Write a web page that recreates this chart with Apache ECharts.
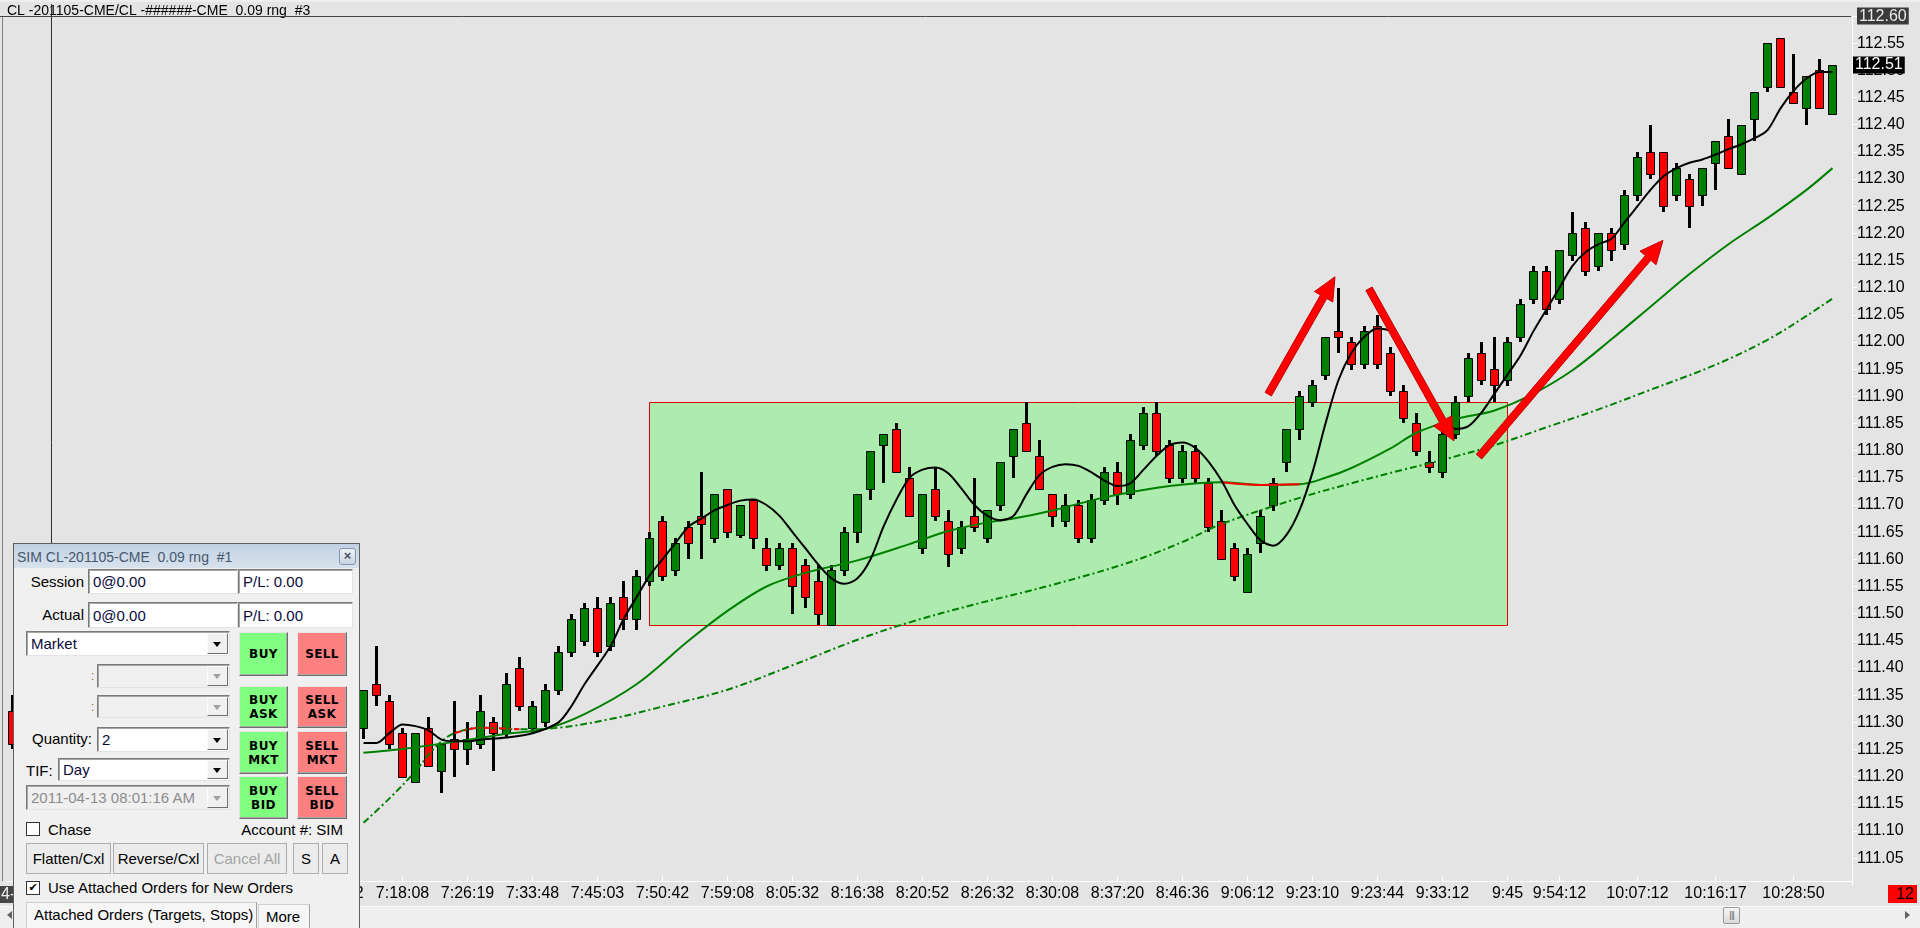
<!DOCTYPE html>
<html><head><meta charset="utf-8">
<script src="https://cdn.jsdelivr.net/npm/echarts@6/dist/echarts.min.js"></script>
<style>
html,body{margin:0;padding:0;width:1920px;height:928px;overflow:hidden;background:#e4e4e4;font-family:'Liberation Sans',Arial,sans-serif;}
#chart{position:absolute;left:0;top:0;width:1920px;height:928px;}
#sb{position:absolute;left:0;top:906px;width:1920px;height:22px;background:#efefef;border-top:1px solid #fbfbfb;box-sizing:border-box;}
#thumb{position:absolute;left:1723px;top:907px;width:17px;height:17px;box-sizing:border-box;border:1px solid #979797;border-radius:2px;background:linear-gradient(#f6f6f6,#dadada);font-size:8px;line-height:15px;text-align:center;color:#555;font-family:'DejaVu Sans';letter-spacing:-1px;}
.sa{position:absolute;width:0;height:0;border-top:4px solid transparent;border-bottom:4px solid transparent;}
#panel{position:absolute;left:13px;top:543px;width:347px;height:400px;box-sizing:border-box;border:1px solid #5f5f5f;background:#f0f0f0;overflow:hidden;font-size:15px;color:#000;}
#panel div{position:absolute;box-sizing:border-box;}
#panel .ttl{left:0;top:0;width:345px;height:24px;background:linear-gradient(#c2d1e2,#d8e2ed);color:#46586e;font-size:14px;line-height:26px;padding-left:3px;white-space:pre;}
#panel .cls{left:325px;top:4px;width:17px;height:17px;border:1px solid #8595ab;border-radius:3px;background:linear-gradient(#eef2f7,#c9d4e1);font-size:13px;line-height:14px;text-align:center;color:#4a5568;font-weight:bold;}
#panel .lbl{height:20px;line-height:20px;white-space:nowrap;}
#panel .inp,#panel .dd{background:#fff;border:1px solid;border-color:#7a7a7a #e3e3e3 #e3e3e3 #7a7a7a;box-shadow:inset 1px 1px 0 #a6a6a6;padding-left:4px;color:#0a0a3c;display:flex;align-items:center;white-space:nowrap;}
#panel .dd.dis{background:#f0f0f0;color:#8c8c8c;}
#panel .arr{right:1px;top:1px;bottom:1px;width:21px;background:#f0f0f0;border:1px solid;border-color:#fafafa #6e6e6e #6e6e6e #fafafa;}
#panel .tri{left:5px;top:50%;margin-top:-2px;width:0;height:0;border-left:4.5px solid transparent;border-right:4.5px solid transparent;border-top:5px solid #000;}
#panel .dis .tri{border-top-color:#a0a0a0;}
#panel .btn{font-family:'DejaVu Sans',sans-serif;font-weight:bold;font-size:12px;line-height:14px;letter-spacing:0.4px;border:1px solid;border-color:#e6e6e6 #6e6e6e #6e6e6e #e6e6e6;box-shadow:inset -1px -1px 0 #a8a8a8;display:flex;flex-direction:column;justify-content:center;align-items:center;}
#panel .buy{background:#80ff80;}
#panel .sell{background:#ff8080;}
#panel .colon{width:6px;height:20px;line-height:20px;font-size:12px;color:#a0682a;}
#panel .chk{width:14px;height:14px;background:#fff;border:1px solid #333;font-size:11px;line-height:12px;text-align:center;font-family:'DejaVu Sans';}
#panel .gb{height:31px;background:#ececec;border:1px solid #adadad;text-align:center;line-height:29px;}
#panel .gb.dis{color:#a3a3a3;}
#panel .tab{border:1px solid;border-color:#d0d0d0 #a0a0a0 transparent #d0d0d0;background:#f6f6f6;padding-left:7px;line-height:24px;white-space:nowrap;}
</style>
</head><body>
<div id="chart"></div>
<div id="sb"></div>
<div class="sa" style="left:7px;top:911px;border-right:5px solid #606060;"></div>
<div class="sa" style="left:1905px;top:911px;border-left:5px solid #606060;"></div>
<div id="thumb">|||</div>
<div id="panel">
 <div class="ttl">SIM CL-201105-CME  0.09 rng  #1</div>
 <div class="cls">×</div>
 <div class="lbl" style="left:0;top:28px;width:70px;text-align:right">Session</div>
 <div class="inp" style="left:74px;top:25px;width:150px;height:25px">0@0.00</div>
 <div class="inp" style="left:224px;top:25px;width:115px;height:25px">P/L: 0.00</div>
 <div class="lbl" style="left:0;top:61px;width:70px;text-align:right">Actual</div>
 <div class="inp" style="left:74px;top:58px;width:150px;height:26px">0@0.00</div>
 <div class="inp" style="left:224px;top:58px;width:115px;height:26px">P/L: 0.00</div>
 <div class="dd" style="left:12px;top:87px;width:204px;height:25px">Market<div class="arr"><div class="tri"></div></div></div>
 <div class="btn buy" style="left:225px;top:88px;width:49px;height:44px"><span>BUY</span></div>
 <div class="btn sell" style="left:283px;top:88px;width:50px;height:44px"><span>SELL</span></div>
 <div class="colon" style="left:77px;top:122px">:</div>
 <div class="dd dis" style="left:83px;top:120px;width:133px;height:24px"><div class="arr"><div class="tri"></div></div></div>
 <div class="colon" style="left:77px;top:153px">:</div>
 <div class="dd dis" style="left:83px;top:151px;width:133px;height:23px"><div class="arr"><div class="tri"></div></div></div>
 <div class="btn buy" style="left:225px;top:142px;width:49px;height:42px"><span>BUY</span><span>ASK</span></div>
 <div class="btn sell" style="left:283px;top:142px;width:50px;height:42px"><span>SELL</span><span>ASK</span></div>
 <div class="lbl" style="left:0;top:185px;width:78px;text-align:right">Quantity:</div>
 <div class="dd" style="left:83px;top:183px;width:133px;height:25px">2<div class="arr"><div class="tri"></div></div></div>
 <div class="btn buy" style="left:225px;top:187px;width:49px;height:43px"><span>BUY</span><span>MKT</span></div>
 <div class="btn sell" style="left:283px;top:187px;width:50px;height:43px"><span>SELL</span><span>MKT</span></div>
 <div class="lbl" style="left:12px;top:217px">TIF:</div>
 <div class="dd" style="left:44px;top:214px;width:172px;height:23px">Day<div class="arr"><div class="tri"></div></div></div>
 <div class="dd dis" style="left:12px;top:241px;width:204px;height:25px">2011-04-13 08:01:16 AM<div class="arr"><div class="tri"></div></div></div>
 <div class="btn buy" style="left:225px;top:232px;width:49px;height:43px"><span>BUY</span><span>BID</span></div>
 <div class="btn sell" style="left:283px;top:232px;width:50px;height:43px"><span>SELL</span><span>BID</span></div>
 <div class="chk" style="left:12px;top:278px"></div>
 <div class="lbl" style="left:34px;top:276px">Chase</div>
 <div class="lbl" style="left:180px;top:276px;width:149px;text-align:right">Account #: SIM</div>
 <div class="gb" style="left:12px;top:299px;width:85px">Flatten/Cxl</div>
 <div class="gb" style="left:99px;top:299px;width:91px">Reverse/Cxl</div>
 <div class="gb dis" style="left:193px;top:299px;width:80px">Cancel All</div>
 <div class="gb" style="left:279px;top:299px;width:26px">S</div>
 <div class="gb" style="left:308px;top:299px;width:26px">A</div>
 <div class="chk" style="left:12px;top:337px">✔</div>
 <div class="lbl" style="left:34px;top:334px">Use Attached Orders for New Orders</div>
 <div class="tab" style="left:12px;top:358px;width:231px;height:40px">Attached Orders (Targets, Stops)</div>
 <div class="tab" style="left:244px;top:360px;width:52px;height:40px">More</div>
</div>
<script>
// ---------------- DATA ----------------
const barCount = 142; // 141 range bars + one empty slot on the right
// per-bar OHLC (null = bar hidden behind the order panel)
const opens = [111.32,null,null,null,null,null,null,null,null,null,null,null,null,null,null,null,null,null,null,null,null,null,null,null,null,null,null,
 111.29,111.37,111.34,111.28,111.19,111.29,111.21,111.27,111.25,111.26,111.30,111.28,111.40,111.29,111.30,111.36,111.43,111.45,111.51,111.44,111.53,111.49,111.56,111.67,
 111.58,111.66,111.68,111.64,111.73,111.645,111.71,111.62,111.59,111.62,111.59,111.56,111.48,111.58,111.65,111.73,111.81,111.84,111.75,111.62,
 111.73,111.67,111.62,111.68,111.64,111.70,111.79,111.85,111.79,111.72,111.67,111.70,111.64,111.71,111.76,111.72,111.81,111.87,111.81,111.75,
 111.80,111.74,111.67,111.62,111.54,111.63,111.70,111.78,111.84,111.89,111.94,112.02,112.00,111.96,112.03,111.98,111.91,111.85,111.78,111.76,
 111.83,111.90,111.98,111.95,111.93,112.01,112.08,112.13,112.08,112.16,112.21,112.14,112.20,112.18,112.27,112.35,112.35,112.27,112.30,112.27,
 112.33,112.38,112.31,112.41,112.47,112.56,112.46,112.43,112.50,112.42];
const closes = [111.26,null,null,null,null,null,null,null,null,null,null,null,null,null,null,null,null,null,null,null,null,null,null,null,null,null,null,
 111.36,111.35,111.26,111.20,111.28,111.22,111.26,111.25,111.27,111.32,111.28,111.37,111.33,111.33,111.36,111.43,111.49,111.51,111.43,111.52,111.49,111.57,111.64,111.57,
 111.63,111.63,111.665,111.72,111.65,111.70,111.64,111.59,111.62,111.55,111.53,111.50,111.58,111.65,111.72,111.80,111.83,111.76,111.68,111.72,
 111.68,111.61,111.66,111.66,111.69,111.78,111.84,111.80,111.73,111.68,111.70,111.64,111.71,111.76,111.72,111.82,111.87,111.80,111.75,111.80,
 111.75,111.66,111.60,111.57,111.61,111.68,111.74,111.84,111.90,111.92,112.01,112.01,111.96,112.02,111.96,111.91,111.86,111.80,111.77,111.83,
 111.89,111.97,111.93,111.92,112.00,112.07,112.13,112.06,112.17,112.20,112.13,112.20,112.17,112.27,112.34,112.31,112.25,112.32,112.25,112.32,
 112.37,112.32,112.40,112.46,112.55,112.47,112.44,112.49,112.43,112.51];
const lows = [111.25,null,null,null,null,null,null,null,null,null,null,null,null,null,null,null,null,null,null,null,null,null,null,null,null,null,null,
 111.27,111.33,111.25,111.20,111.19,111.22,111.17,111.20,111.22,111.25,111.21,111.27,111.32,111.28,111.29,111.35,111.42,111.44,111.42,111.43,111.47,111.47,111.55,111.56,
 111.57,111.60,111.60,111.63,111.64,111.64,111.62,111.58,111.58,111.50,111.51,111.48,111.48,111.57,111.63,111.71,111.74,111.76,111.68,111.61,
 111.67,111.585,111.61,111.65,111.63,111.69,111.75,111.80,111.73,111.66,111.66,111.63,111.63,111.70,111.70,111.71,111.80,111.79,111.74,111.74,
 111.74,111.65,111.60,111.56,111.54,111.61,111.69,111.76,111.82,111.88,111.93,111.98,111.95,111.95,111.95,111.90,111.85,111.79,111.76,111.75,
 111.82,111.89,111.92,111.89,111.92,112.00,112.07,112.05,112.07,112.15,112.12,112.13,112.15,112.17,112.26,112.30,112.24,112.26,112.21,112.25,
 112.28,112.32,112.31,112.37,112.46,112.47,112.44,112.40,112.43,112.42];
const highs = [111.35,null,null,null,null,null,null,null,null,null,null,null,null,null,null,null,null,null,null,null,null,null,null,null,null,null,null,
 111.36,111.44,111.35,111.29,111.28,111.31,111.26,111.34,111.30,111.35,111.31,111.39,111.42,111.34,111.37,111.44,111.50,111.52,111.53,111.53,111.56,111.58,111.65,111.68,
 111.64,111.67,111.76,111.72,111.73,111.70,111.71,111.64,111.63,111.63,111.60,111.59,111.59,111.66,111.72,111.80,111.83,111.85,111.77,111.72,
 111.77,111.69,111.67,111.75,111.69,111.78,111.84,111.89,111.82,111.72,111.72,111.71,111.72,111.77,111.78,111.83,111.88,111.89,111.82,111.81,
 111.81,111.75,111.69,111.63,111.62,111.69,111.75,111.84,111.91,111.93,112.01,112.10,112.01,112.03,112.05,111.99,111.92,111.87,111.80,111.84,
 111.90,111.98,112.00,112.01,112.01,112.08,112.14,112.14,112.17,112.24,112.22,112.20,112.21,112.28,112.35,112.40,112.35,112.33,112.31,112.32,
 112.37,112.41,112.40,112.46,112.55,112.56,112.53,112.49,112.52,112.51];

// moving averages: [bar, price]
const maFast = [[27,111.262],[28,111.262],[29,111.28],[30,111.296],[31,111.293],[32,111.285],[33,111.268],[34,111.265],[35,111.265],[36,111.268],[38,111.272],[40,111.28],[42,111.30],[43,111.33],[44,111.37],[46,111.44],[47,111.49],[48,111.53],[49,111.57],[50,111.60],[51,111.63],[52,111.66],[53,111.675],[54,111.69],[55,111.70],[56,111.708],[57,111.71],[58,111.70],[59,111.68],[60,111.65],[61,111.62],[62,111.59],[63,111.565],[64,111.555],[65,111.565],[66,111.60],[67,111.66],[68,111.71],[69,111.75],[70,111.765],[71,111.769],[72,111.758],[73,111.73],[74,111.70],[75,111.68],[76,111.672],[77,111.68],[78,111.72],[79,111.755],[80,111.77],[81,111.775],[82,111.772],[83,111.76],[84,111.745],[85,111.735],[86,111.74],[87,111.765],[88,111.79],[89,111.81],[90,111.815],[91,111.805],[92,111.78],[93,111.745],[94,111.70],[95,111.665],[96,111.635],[97,111.625],[98,111.645],[99,111.69],[100,111.76],[101,111.85],[102,111.93],[103,111.98],[104,112.01],[105,112.025],[106,112.02],[107,111.995],[108,111.95],[109,111.90],[110,111.86],[111,111.84],[112,111.845],[113,111.87],[114,111.905],[115,111.94],[116,111.975],[117,112.02],[118,112.06],[119,112.10],[120,112.14],[121,112.165],[122,112.18],[123,112.19],[124,112.22],[125,112.25],[126,112.28],[127,112.305],[128,112.32],[129,112.33],[130,112.336],[131,112.345],[132,112.355],[133,112.364],[134,112.375],[135,112.39],[136,112.43],[137,112.462],[138,112.485],[139,112.497],[140,112.497]];
const maMid = [[27,111.244],[30,111.251],[34,111.264],[38,111.279],[41,111.288],[44,111.315],[48,111.37],[52,111.45],[55,111.505],[58,111.55],[61,111.575],[65,111.598],[69,111.628],[72,111.652],[75,111.668],[77,111.675],[80,111.69],[84,111.714],[89,111.735],[93,111.742],[96,111.737],[99,111.738],[101,111.75],[103,111.768],[106,111.804],[108,111.833],[111,111.858],[114,111.874],[117,111.905],[120,111.948],[123,112.005],[126,112.065],[129,112.125],[132,112.18],[135,112.228],[138,112.28],[140,112.32]];
const maSlow = [[27,111.115],[29,111.16],[31,111.21],[32,111.24],[33,111.265],[34,111.28],[36,111.29],[39,111.287],[42,111.29],[46,111.306],[50,111.329],[55,111.36],[60,111.405],[65,111.452],[69,111.484],[74,111.517],[80,111.553],[86,111.595],[90,111.632],[93,111.665],[99,111.713],[103,111.74],[107,111.765],[110,111.783],[114,111.81],[118,111.843],[122,111.876],[126,111.912],[131,111.958],[135,112.004],[138,112.048],[140,112.08]];
const midFallingBars = [93, 99];   // span where the mid average is drawn red
const slowFallingBars = [34, 39];  // span where the slow average is drawn red

// consolidation box: [fromBar, toBar, low, high]
const rangeBox = [[49, 115, 111.48, 111.89]];
// annotation arrows: [tailBar, tailPrice, tipBar, tipPrice]
const arrows = [[96.6, 111.904, 101.73, 112.12], [104.35, 112.098, 110.88, 111.818], [112.81, 111.789, 126.96, 112.187]];

// time-axis tick labels
const tickBars = [25,30,35,40,45,50,55,60,65,70,75,80,85,90,95,100,105,110,115,119,125,131,137];
const tickLabels = ['7:11:02','7:18:08','7:26:19','7:33:48','7:45:03','7:50:42','7:59:08','8:05:32','8:16:38','8:20:52','8:26:32','8:30:08','8:37:20','8:46:36','9:06:12','9:23:10','9:23:44','9:33:12','9:45','9:54:12','10:07:12','10:16:17','10:28:50'];
const priceMin = 111.00, priceMax = 112.60, priceStep = 0.05;
const titleText = 'CL -201105-CME/CL -######-CME  0.09 rng  #3';
const barTimer = '12';

// ---------------- BUILD ----------------
const FONT = "'Liberation Sans', Arial, sans-serif";
const categories = [];
for (let i = 0; i < barCount; i++) {
  const k = tickBars.indexOf(i);
  categories.push(k >= 0 ? tickLabels[k] : '');
}
const candleData = [];
for (let i = 0; i < opens.length; i++) {
  if (opens[i] == null) continue;
  candleData.push([i, opens[i], closes[i], lows[i], highs[i]]);
}
const lastClose = closes[closes.length - 1];
const isTick = (idx) => tickBars.indexOf(idx) >= 0;
const inSpan = (arr, span) => arr.filter(p => p[0] >= span[0] && p[0] <= span[1]);

function coordAt(api, x, y) {
  const a = Math.floor(x), f = x - a;
  const p = api.coord([a, y]), q = api.coord([a + 1, y]);
  return [p[0] + (q[0] - p[0]) * f, p[1]];
}

const SM = 0.35;
const chart = echarts.init(document.getElementById('chart'), null, {renderer: 'canvas'});
const option = {
  animation: false,
  backgroundColor: '#e4e4e4',
  grid: {left: 6, right: 68, top: 16, bottom: 42.7},
  xAxis: {
    type: 'category', data: categories, boundaryGap: true, offset: -4.3,
    axisLine: {show: true, lineStyle: {color: '#ffffff', width: 1}},
    axisTick: {show: true, inside: true, length: 5, alignWithLabel: true, interval: (i) => isTick(i), lineStyle: {color: '#ffffff'}},
    axisLabel: {interval: (i) => isTick(i), color: '#000', fontSize: 16, fontFamily: FONT, margin: 5},
    splitLine: {show: false}
  },
  yAxis: {
    type: 'value', position: 'right', min: priceMin, max: priceMax, interval: priceStep,
    axisLine: {show: true, lineStyle: {color: '#ffffff'}},
    axisTick: {show: true, length: 5, lineStyle: {color: '#ffffff'}},
    axisLabel: {
      showMinLabel: false, color: '#000', fontSize: 16, fontFamily: FONT, margin: 5,
      formatter: (v) => Math.abs(v - priceMax) < 1e-6 ? '{hl|' + v.toFixed(2) + '}' : v.toFixed(2),
      rich: {hl: {backgroundColor: '#3a3a3a', color: '#e8e8e8', fontSize: 16, fontFamily: FONT, padding: [1, 2, 0, 2]}}
    },
    splitLine: {show: false}
  },
  series: [
    {
      type: 'custom', name: 'range', z: 1, data: rangeBox, encode: {x: [0, 1], y: [2, 3]},
      renderItem: (params, api) => {
        const p0 = api.coord([api.value(0), api.value(3)]);
        const p1 = api.coord([api.value(1), api.value(2)]);
        return {type: 'rect', shape: {x: p0[0], y: Math.round(p0[1]) + 0.5, width: p1[0] - p0[0], height: Math.round(p1[1] - p0[1])},
          style: {fill: '#aeebae', stroke: '#dd0000', lineWidth: 1}};
      }
    },
    {
      type: 'custom', name: 'bars', z: 2, data: candleData, encode: {x: 0, y: [1, 2, 3, 4]},
      renderItem: (params, api) => {
        const i = api.value(0), o = api.value(1), c = api.value(2), l = api.value(3), h = api.value(4);
        const pO = api.coord([i, o]), pC = api.coord([i, c]), pL = api.coord([i, l]), pH = api.coord([i, h]);
        const x = pO[0];
        const top = Math.round(Math.min(pO[1], pC[1])), bot = Math.round(Math.max(pO[1], pC[1]));
        return {type: 'group', children: [
          {type: 'rect', shape: {x: x - 1.5, y: Math.round(pH[1]), width: 3, height: Math.max(Math.round(pL[1] - pH[1]), 1)}, style: {fill: '#000'}},
          {type: 'rect', shape: {x: x - 4, y: top + 0.5, width: 8, height: Math.max(bot - top, 2)},
            style: {fill: c >= o ? '#008000' : '#ff0000', stroke: '#000', lineWidth: 1}}
        ]};
      }
    },
    {type: 'line', name: 'slow', z: 3, data: maSlow, smooth: SM, showSymbol: false, silent: true,
      lineStyle: {color: '#008000', width: 2, type: [7, 3, 2, 3]}},
    {type: 'line', name: 'slowFall', z: 3, data: inSpan(maSlow, slowFallingBars), smooth: SM, showSymbol: false, silent: true,
      lineStyle: {color: '#ff0000', width: 2, type: [7, 3, 2, 3]}},
    {type: 'line', name: 'mid', z: 3, data: maMid, smooth: SM, showSymbol: false, silent: true,
      lineStyle: {color: '#008000', width: 2}},
    {type: 'line', name: 'midFall', z: 3, data: inSpan(maMid, midFallingBars), smooth: SM, showSymbol: false, silent: true,
      lineStyle: {color: '#ff0000', width: 2}},
    {type: 'line', name: 'fast', z: 4, data: maFast, smooth: 0.3, showSymbol: false, silent: true,
      lineStyle: {color: '#000', width: 2}},
    {
      type: 'custom', name: 'arrows', z: 5, data: arrows, encode: {x: [0, 2], y: [1, 3]},
      renderItem: (params, api) => {
        const p0 = coordAt(api, api.value(0), api.value(1));
        const p1 = coordAt(api, api.value(2), api.value(3));
        const dx = p1[0] - p0[0], dy = p1[1] - p0[1], len = Math.hypot(dx, dy);
        const ux = dx / len, uy = dy / len, nx = -uy, ny = ux;
        const w = 3.6, hw = 10.5, hl = 23;
        const nk = [p1[0] - ux * hl, p1[1] - uy * hl];
        const pts = [
          [p0[0] + nx * w, p0[1] + ny * w], [nk[0] + nx * w, nk[1] + ny * w], [nk[0] + nx * hw, nk[1] + ny * hw], p1,
          [nk[0] - nx * hw, nk[1] - ny * hw], [nk[0] - nx * w, nk[1] - ny * w], [p0[0] - nx * w, p0[1] - ny * w]
        ];
        return {type: 'polygon', shape: {points: pts}, style: {fill: '#ff0000', stroke: '#c40000', lineWidth: 1}};
      }
    }
  ],
  graphic: [
    {id: 'topStrip', type: 'rect', shape: {x: 0, y: 0, width: 1920, height: 2}, style: {fill: '#eeeeee'}, z: 10},
    {id: 'title', type: 'text', x: 7, y: 11, style: {text: titleText, fill: '#000', fontSize: 14, fontFamily: FONT, verticalAlign: 'middle'}, z: 10},
    {id: 'topLine', type: 'line', shape: {x1: 0, y1: 16.5, x2: 1851, y2: 16.5}, style: {stroke: '#454545', lineWidth: 1}, z: 10},
    {id: 'leftLine', type: 'line', shape: {x1: 2.5, y1: 17, x2: 2.5, y2: 881}, style: {stroke: '#808080', lineWidth: 1}, z: 10},
    {id: 'vLine', type: 'line', shape: {x1: 51.5, y1: 4, x2: 51.5, y2: 881}, style: {stroke: '#303030', lineWidth: 1}, z: 10},
    {id: 'timerBox', type: 'rect', shape: {x: 1888, y: 885, width: 29, height: 18}, style: {fill: '#ff0000'}, z: 10},
    {id: 'timerTxt', type: 'text', x: 1914, y: 894.5, style: {text: barTimer, fill: '#000', fontSize: 16, fontFamily: FONT, align: 'right', verticalAlign: 'middle'}, z: 11},
    {id: 'dateBox', type: 'rect', shape: {x: 0, y: 886, width: 40, height: 17}, style: {fill: '#464646'}, z: 10},
    {id: 'dateTxt', type: 'text', x: 1, y: 894.5, style: {text: '4-13', fill: '#f0f0f0', fontSize: 16, fontFamily: FONT, verticalAlign: 'middle'}, z: 11}
  ]
};
chart.setOption(option);
// current-price tag on the price scale, placed through the axis' own scale
const yLast = chart.convertToPixel({yAxisIndex: 0}, lastClose);
chart.setOption({graphic: [{
  id: 'lastPrice', type: 'text', x: 1853, y: Math.round(yLast), z: 20,
  style: {text: lastClose.toFixed(2), fill: '#ffffff', backgroundColor: '#000000', padding: [1, 2, 0, 2], fontSize: 16, fontFamily: FONT, verticalAlign: 'middle'}
}]});
</script>
</body></html>
